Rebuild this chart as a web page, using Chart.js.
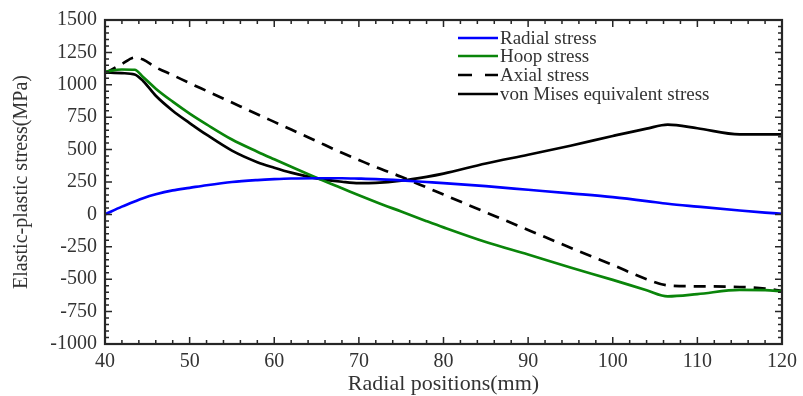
<!DOCTYPE html>
<html>
<head>
<meta charset="utf-8">
<script src="https://cdn.jsdelivr.net/npm/chart.js@4.4.1/dist/chart.umd.min.js"></script>
<style>
  body { margin: 0; background: #fff; }
  #wrap { width: 803px; height: 396px; }
</style>
</head>
<body>
<div id="wrap"><canvas id="myChart" width="803" height="396"></canvas></div>
<script>
/* global Chart */

// radial positions (mm)
const positions = [40, 42, 43.5, 44.5, 46, 48, 50, 52, 55, 58, 60, 62, 65, 68, 70, 72, 75, 78, 80, 85, 90, 95, 100, 104, 106.5, 110, 115, 118, 120];
// stress series (MPa)
const radialStress = [0, 60, 100, 125, 155, 185, 205, 225, 250, 265, 272, 277, 279, 279, 276, 272, 262, 250, 242, 218, 190, 162, 133, 103, 82, 60, 30, 14, 5];
const hoopStress = [1100, 1118, 1116, 1060, 970, 870, 778, 695, 578, 484, 425, 367, 282, 202, 148, 96, 22, -52, -100, -213, -310, -410, -505, -585, -632, -615, -582, -585, -592];
const axialStress = [1090, 1160, 1210, 1195, 1135, 1075, 1013, 953, 863, 773, 714, 655, 565, 475, 420, 365, 290, 208, 153, 16, -120, -257, -390, -500, -548, -555, -560, -572, -590];
const vonMises = [1095, 1090, 1080, 1030, 915, 800, 705, 615, 492, 403, 360, 322, 278, 252, 241, 243, 260, 290, 315, 393, 460, 530, 605, 662, 693, 665, 618, 618, 618];

// tick labels
const xTickValues = [40, 50, 60, 70, 80, 90, 100, 110, 120];
const yTickValues = [-1000, -750, -500, -250, 0, 250, 500, 750, 1000, 1250, 1500];

const serif = "'Liberation Serif', 'Times New Roman', serif";
const textColor = '#333';

function toPoints(ys) {
  return positions.map((x, i) => ({ x: x, y: ys[i] }));
}

// box with inward ticks on all four sides, like the original figure
const framePlugin = {
  id: 'frame',
  afterDatasetsDraw(chart) {
    const { ctx, chartArea: a, scales: { x, y } } = chart;
    ctx.save();
    ctx.strokeStyle = '#262626';
    ctx.lineWidth = 1.5;
    ctx.beginPath();
    for (let v = 40; v <= 120; v += 2) {
      const px = x.getPixelForValue(v);
      const len = v % 10 === 0 ? 7 : 4;
      ctx.moveTo(px, a.bottom); ctx.lineTo(px, a.bottom - len);
      ctx.moveTo(px, a.top); ctx.lineTo(px, a.top + len);
    }
    for (let v = -1000; v <= 1500; v += 50) {
      const py = y.getPixelForValue(v);
      const len = v % 250 === 0 ? 7 : 4;
      ctx.moveTo(a.left, py); ctx.lineTo(a.left + len, py);
      ctx.moveTo(a.right, py); ctx.lineTo(a.right - len, py);
    }
    ctx.stroke();
    ctx.lineWidth = 2.2;
    ctx.strokeRect(a.left, a.top, a.right - a.left, a.bottom - a.top);
    ctx.restore();
  }
};

// legend drawn inside the plot, top right
const legendPlugin = {
  id: 'insideLegend',
  afterDraw(chart) {
    const { ctx } = chart;
    const rows = [38, 56, 75, 94];
    ctx.save();
    ctx.font = '19px ' + serif;
    ctx.textBaseline = 'middle';
    chart.data.datasets.forEach((ds, i) => {
      const yy = rows[i];
      ctx.strokeStyle = ds.borderColor;
      ctx.lineWidth = 2.7;
      ctx.setLineDash(ds.borderDash && ds.borderDash.length ? [14, 13] : []);
      ctx.beginPath();
      ctx.moveTo(458, yy);
      ctx.lineTo(498, yy);
      ctx.stroke();
      ctx.setLineDash([]);
      ctx.fillStyle = textColor;
      ctx.fillText(ds.label, 500, yy + 1);
    });
    ctx.restore();
  }
};

const ctx = document.getElementById('myChart').getContext('2d');

const chart = new Chart(ctx, {
  type: 'line',
  data: {
    datasets: [{
      label: 'Radial stress',
      borderColor: '#0000ff',
      data: toPoints(radialStress),
    },
    {
      label: 'Hoop stress',
      borderColor: '#0a850a',
      data: toPoints(hoopStress),
    },
    {
      label: 'Axial stress',
      borderColor: '#000000',
      borderDash: [12, 8],
      data: toPoints(axialStress),
    },
    {
      label: 'von Mises equivalent stress',
      borderColor: '#000000',
      data: toPoints(vonMises),
    }]
  },
  options: {
    responsive: false,
    animation: false,
    layout: { padding: { top: 18, right: 19, bottom: 0, left: 0 } },
    elements: {
      point: { radius: 0 },
      line: { borderWidth: 2.7, cubicInterpolationMode: 'monotone', fill: false }
    },
    plugins: {
      legend: { display: false },
      tooltip: { enabled: false }
    },
    scales: {
      x: {
        type: 'linear',
        min: 40,
        max: 120,
        afterBuildTicks: s => { s.ticks = xTickValues.map(v => ({ value: v })); },
        afterFit: s => { s.height = 52; },
        grid: { display: false, drawTicks: false },
        border: { display: false },
        ticks: { padding: 6, color: textColor, maxRotation: 0, font: { family: serif, size: 20 }, callback: v => String(v) },
        title: {
          display: true,
          text: 'Radial positions(mm)',
          color: textColor,
          font: { family: serif, size: 22, lineHeight: 1 },
          padding: { top: 0, bottom: 1 }
        }
      },
      y: {
        min: -1000,
        max: 1500,
        afterBuildTicks: s => { s.ticks = yTickValues.map(v => ({ value: v })); },
        afterFit: s => { s.width = 105; },
        grid: { display: false, drawTicks: false },
        border: { display: false },
        ticks: { padding: 8, color: textColor, font: { family: serif, size: 20 }, callback: v => String(v) },
        title: {
          display: true,
          text: 'Elastic-plastic stress(MPa)',
          color: textColor,
          font: { family: serif, size: 20 },
          padding: { top: 10, bottom: 0 }
        }
      }
    }
  },
  plugins: [framePlugin, legendPlugin]
});
console.log(chart);
</script>
</body>
</html>
